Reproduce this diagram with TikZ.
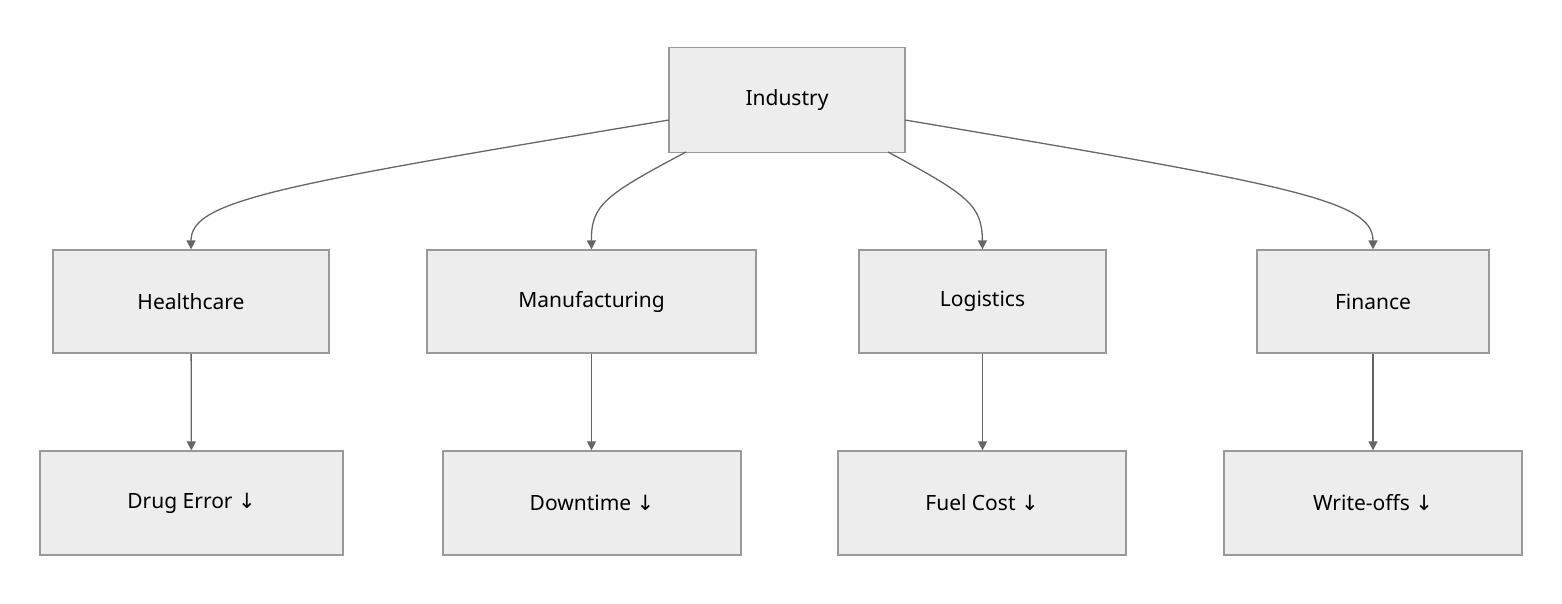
\documentclass[tikz,border=0pt]{standalone}
\usepackage{fontspec}
\setmainfont{Noto Sans}
\newfontfamily\arrowfont{DejaVu Sans}
\usetikzlibrary{arrows.meta}
\newcommand{\dn}{{\arrowfont ↓}}
\begin{document}
\begin{tikzpicture}[x=1pt,y=-1pt,
  box/.style={draw=black!40,fill=black!7,line width=1.2pt,inner sep=0,font=\fontsize{21}{24}\selectfont},
  con/.style={draw=black!60,line width=1.3pt,-{Triangle[length=9pt,width=9pt]}}]
\useasboundingbox (0,0) rectangle (1562,604);
\node[box,minimum width=236,minimum height=105] (ind) at (787,100) {Industry};
\node[box,minimum width=276,minimum height=103] (hc) at (191,301.5) {Healthcare};
\node[box,minimum width=329,minimum height=103] (mf) at (591.5,301.5) {Manufacturing};
\node[box,minimum width=247,minimum height=103] (lg) at (982.5,301.5) {Logistics};
\node[box,minimum width=232,minimum height=103] (fi) at (1373,301.5) {Finance};
\node[box,minimum width=303,minimum height=104] (de) at (191.5,503) {Drug Error \dn};
\node[box,minimum width=298,minimum height=104] (dt) at (592,503) {Downtime \dn};
\node[box,minimum width=288,minimum height=104] (fc) at (982,503) {Fuel Cost \dn};
\node[box,minimum width=298,minimum height=104] (wo) at (1373,503) {Write-offs \dn};
\coordinate (a1) at (669,120);
\coordinate (a2) at (686,152);
\coordinate (a3) at (888,152);
\coordinate (a4) at (905,120);
\draw[con] (a1) .. controls (280,185) and (191,200) .. (hc.north);
\draw[con] (a2) .. controls (605,195) and (591,205) .. (mf.north);
\draw[con] (a3) .. controls (968,195) and (982,205) .. (lg.north);
\draw[con] (a4) .. controls (1290,185) and (1373,200) .. (fi.north);
\draw[con] (hc) -- (de);
\draw[con] (mf.south) -- (mf.south |- dt.north);
\draw[con] (lg.south) -- (lg.south |- fc.north);
\draw[con] (fi) -- (wo);
\end{tikzpicture}
\end{document}
